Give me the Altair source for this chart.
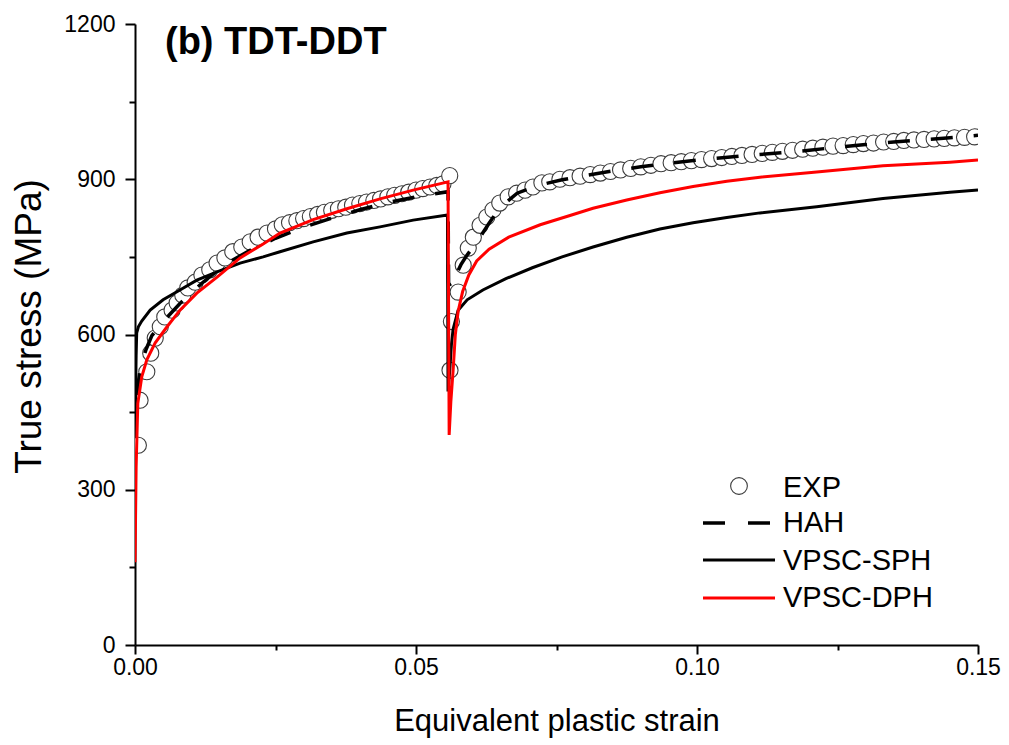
import altair as alt
import pandas as pd

FONT = "Liberation Sans"

# ---- EXP (circles) ----
exp_strain = [0.0006, 0.0009, 0.0021, 0.0028, 0.0036, 0.0045, 0.0053, 0.0066, 0.0075, 0.0085,
              0.0094, 0.0107, 0.0119, 0.0133, 0.0146, 0.0160, 0.0174, 0.0190, 0.0205, 0.0219,
              0.0235, 0.0250, 0.0262, 0.0275, 0.0288, 0.0300, 0.0312, 0.0325, 0.0337, 0.0350,
              0.0362, 0.0375, 0.0387, 0.0400, 0.0412, 0.0425, 0.0437, 0.0450, 0.0462, 0.0475,
              0.0487, 0.0500, 0.0512, 0.0525, 0.0537, 0.0548, 0.0560,
              0.05605, 0.0563, 0.0575, 0.0584, 0.0593, 0.0602, 0.0614, 0.0626, 0.0637, 0.0649,
              0.0664, 0.0679, 0.0694, 0.0708, 0.0724, 0.0738, 0.0756,
              0.0774, 0.0792, 0.0810, 0.0828, 0.0846, 0.0864, 0.0882, 0.0900, 0.0918, 0.0936,
              0.0954, 0.0972, 0.0990, 0.1008, 0.1026, 0.1044, 0.1062, 0.1080, 0.1098, 0.1116,
              0.1134, 0.1152, 0.1170, 0.1188, 0.1206, 0.1224, 0.1242, 0.1260, 0.1278, 0.1296,
              0.1314, 0.1332, 0.1350, 0.1368, 0.1386, 0.1404, 0.1422, 0.1440, 0.1458, 0.1476,
              0.1494]
exp_stress = [386, 473, 528, 564, 593, 615, 634, 647, 661, 676,
              690, 701, 715, 725, 738, 748, 760, 769, 779, 788,
              796, 804, 812, 816, 820, 824, 828, 832, 836, 840,
              843, 846, 850, 853, 856, 859, 862, 866, 869, 872,
              875, 879, 882, 885, 888, 891, 907,
              531, 625, 682, 734, 767, 788, 811, 827, 841, 854,
              866, 873, 879, 885, 893, 895, 900,
              903, 906, 909, 912, 915, 918, 921, 924, 927, 930,
              932, 934, 936, 938, 940, 942, 944, 946, 948, 950,
              952, 954, 956, 958, 960, 962, 964, 965, 967, 969,
              970, 972, 973, 975, 976, 977, 978, 979, 980, 981,
              982]

# ---- HAH (dashed black) ----
hah_strain = [0.0000, 0.0005, 0.0010, 0.0020, 0.0030, 0.0050, 0.0080, 0.0120, 0.0160, 0.0200,
              0.0250, 0.0300, 0.0350, 0.0400, 0.0450, 0.0500, 0.0557, 0.0558, 0.0563, 0.0570,
              0.0580, 0.0590, 0.0602, 0.0615, 0.0630, 0.0649, 0.0680, 0.0720, 0.0760, 0.0800,
              0.0850, 0.0900, 0.0950, 0.1000, 0.1050, 0.1100, 0.1150, 0.1200, 0.1250, 0.1300,
              0.1350, 0.1400, 0.1450, 0.1500]
hah_stress = [400, 500, 540, 572, 598, 625, 660, 700, 735, 760,
              786, 807, 825, 841, 855, 866, 876, 700, 690, 712,
              735, 752, 770, 790, 815, 845, 873, 889, 899, 907,
              916, 924, 931, 937, 942, 947, 951, 956, 962, 967,
              972, 976, 980, 985]

# ---- VPSC-SPH (solid black) ----
sph_strain = [0.0000, 0.0002, 0.0003, 0.0006, 0.0012, 0.0027, 0.0050, 0.0080, 0.0110, 0.0146,
              0.0187, 0.0228, 0.0258, 0.0317, 0.0377, 0.0436, 0.0495, 0.0556, 0.0557, 0.0560,
              0.0563, 0.0566, 0.0575, 0.0591, 0.0619, 0.0660, 0.0707, 0.0760, 0.0815, 0.0875,
              0.0934, 0.0993, 0.1053, 0.1112, 0.1213, 0.1331, 0.1450, 0.1500]
sph_stress = [410, 560, 603, 615, 626, 647, 667, 686, 705, 721,
              738, 750, 760, 779, 796, 808, 821, 831, 490, 530,
              580, 610, 647, 667, 686, 708, 729, 750, 769, 788,
              804, 816, 826, 835, 847, 863, 875, 879]

# ---- VPSC-DPH (solid red) ----
dph_strain = [0.0000, 0.0001, 0.0002, 0.0005, 0.0012, 0.0021, 0.0036, 0.0057, 0.0080, 0.0110,
              0.0146, 0.0187, 0.0228, 0.0258, 0.0317, 0.0377, 0.0436, 0.0495, 0.0557, 0.0559,
              0.0562, 0.0566, 0.0570, 0.0575, 0.0583, 0.0594, 0.0608, 0.0630, 0.0665, 0.0721,
              0.0774, 0.0815, 0.0875, 0.0934, 0.0993, 0.1053, 0.1112, 0.1213, 0.1331, 0.1450,
              0.1500]
dph_stress = [160, 250, 344, 467, 518, 551, 584, 615, 647, 680,
              711, 748, 775, 796, 822, 843, 862, 879, 895, 406,
              470, 530, 600, 645, 683, 715, 742, 765, 788, 812,
              830, 844, 860, 874, 886, 896, 904, 914, 926, 933,
              937]

x_ticks = [0, 0.025, 0.05, 0.075, 0.1, 0.125, 0.15]
y_ticks = [0, 150, 300, 450, 600, 750, 900, 1050, 1200]
legend_labels = ["EXP", "HAH", "VPSC-SPH", "VPSC-DPH"]
panel_title = "(b) TDT-DDT"


def frame(xs, ys):
    return pd.DataFrame({"strain": xs, "stress": ys, "i": list(range(len(xs)))})


xscale = alt.Scale(domain=[0, 0.15], nice=False, zero=False)
yscale = alt.Scale(domain=[0, 1200], nice=False, zero=False)

x_axis = alt.Axis(
    orient="bottom", values=x_ticks, grid=False, labelFlush=False,
    labelExpr="round(datum.value*1000) % 50 == 0 ? format(datum.value, '.2f') : ''",
    tickSize={"condition": {"test": "round(datum.value*1000) % 50 == 0", "value": 9}, "value": 5},
    domainColor="black", domainWidth=2, tickColor="black", tickWidth=2,
    labelFont=FONT, labelFontSize=23, labelColor="black", labelPadding=2,
    title="Equivalent plastic strain", titleFont=FONT, titleFontSize=31,
    titleFontWeight="normal", titleColor="black", titleY=76, titleBaseline="middle",
)
y_axis = alt.Axis(
    orient="left", values=y_ticks, grid=False, labelFlush=False,
    labelExpr="datum.value % 300 == 0 ? format(datum.value, 'd') : ''",
    tickSize={"condition": {"test": "datum.value % 300 == 0", "value": 10}, "value": 6},
    domainColor="black", domainWidth=2, tickColor="black", tickWidth=2,
    labelFont=FONT, labelFontSize=23, labelColor="black", labelPadding=10,
    title="True stress (MPa)", titleFont=FONT, titleFontSize=37,
    titleFontWeight="normal", titleColor="black", titleX=-106, titleY=302,
    titleBaseline="middle", titleAngle=-90,
)

X = alt.X("strain:Q", scale=xscale, axis=x_axis)
Y = alt.Y("stress:Q", scale=yscale, axis=y_axis)

exp_layer = alt.Chart(frame(exp_strain, exp_stress)).mark_point(
    shape="circle", size=260, fill="white", stroke="#3c3c3c", strokeWidth=1.1,
    opacity=1, fillOpacity=1, clip=True,
).encode(x=X, y=Y)

hah_layer = alt.Chart(frame(hah_strain, hah_stress)).mark_line(
    color="black", strokeWidth=3.5, strokeDash=[22, 21], clip=True,
).encode(x=X, y=Y, order="i:Q")

sph_layer = alt.Chart(frame(sph_strain, sph_stress)).mark_line(
    color="black", strokeWidth=3, clip=True,
).encode(x=X, y=Y, order="i:Q")

dph_layer = alt.Chart(frame(dph_strain, dph_stress)).mark_line(
    color="#ff0000", strokeWidth=3, clip=True,
).encode(x=X, y=Y, order="i:Q")

one = pd.DataFrame({"k": [0]})

title_layer = alt.Chart(pd.DataFrame({"t": [panel_title]})).mark_text(
    align="left", baseline="alphabetic", font=FONT, fontSize=38, fontWeight="bold", color="black",
).encode(text="t:N", x=alt.value(30), y=alt.value(30))

leg_circle = alt.Chart(one).mark_point(
    shape="circle", size=280, fill="white", stroke="#3c3c3c", strokeWidth=1.1,
    opacity=1, fillOpacity=1,
).encode(x=alt.value(604), y=alt.value(462))
leg_hah = alt.Chart(one).mark_rule(color="black", strokeWidth=3.5, strokeDash=[22, 23]).encode(
    x=alt.value(568), x2=alt.value(635), y=alt.value(499))
leg_sph = alt.Chart(one).mark_rule(color="black", strokeWidth=3).encode(
    x=alt.value(568), x2=alt.value(640), y=alt.value(536))
leg_dph = alt.Chart(one).mark_rule(color="#ff0000", strokeWidth=3).encode(
    x=alt.value(568), x2=alt.value(640), y=alt.value(574))

leg_y = [464, 499, 537, 574]
leg_texts = [
    alt.Chart(pd.DataFrame({"t": [lab]})).mark_text(
        align="left", baseline="middle", font=FONT, fontSize=29, color="black",
    ).encode(text="t:N", x=alt.value(648), y=alt.value(yy))
    for lab, yy in zip(legend_labels, leg_y)
]

chart = alt.layer(
    exp_layer, hah_layer, sph_layer, dph_layer, title_layer,
    leg_circle, leg_hah, leg_sph, leg_dph, *leg_texts,
).properties(
    width=843, height=621,
    autosize=alt.AutoSizeParams(type="none"),
    padding={"left": 127, "top": 16, "right": 23, "bottom": 98},
    background="white",
).configure_view(stroke=None)

chart.save("out.html", embed_options={"renderer": "svg", "actions": False})
